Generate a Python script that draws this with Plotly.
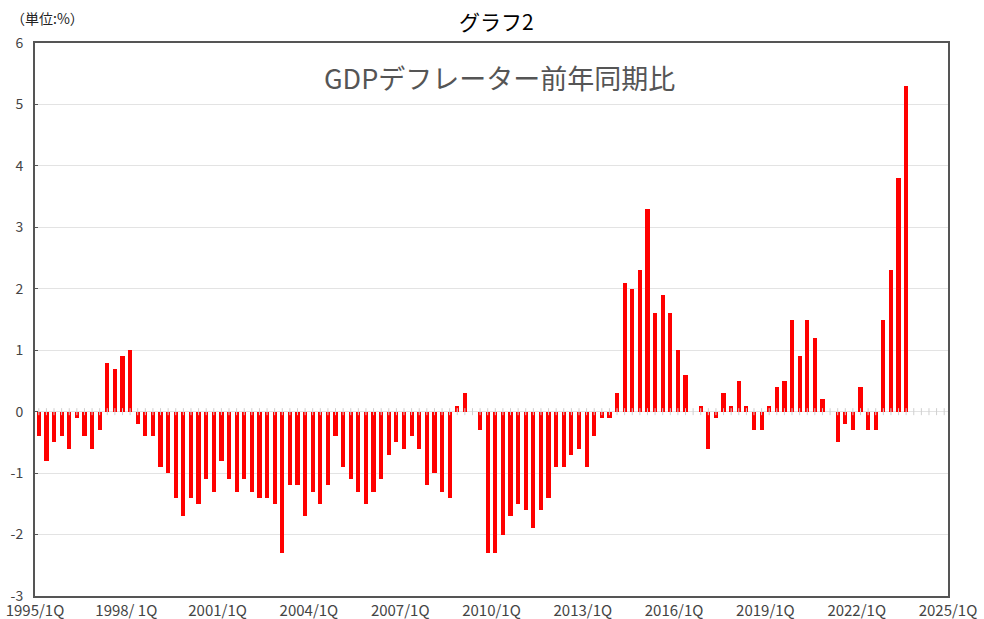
import plotly.graph_objects as go

# GDP deflator, year-on-year change (%), quarterly from 1995/1Q
values = [
    -0.4, -0.8, -0.5, -0.4,   # 1995
    -0.6, -0.1, -0.4, -0.6,   # 1996
    -0.3, 0.8, 0.7, 0.9,      # 1997
    1.0, -0.2, -0.4, -0.4,    # 1998
    -0.9, -1.0, -1.4, -1.7,   # 1999
    -1.4, -1.5, -1.1, -1.3,   # 2000
    -0.8, -1.1, -1.3, -1.1,   # 2001
    -1.3, -1.4, -1.4, -1.5,   # 2002
    -2.3, -1.2, -1.2, -1.7,   # 2003
    -1.3, -1.5, -1.2, -0.4,   # 2004
    -0.9, -1.1, -1.3, -1.5,   # 2005
    -1.3, -1.1, -0.7, -0.5,   # 2006
    -0.6, -0.4, -0.6, -1.2,   # 2007
    -1.0, -1.3, -1.4, 0.1,    # 2008
    0.3, 0.0, -0.3, -2.3,     # 2009
    -2.3, -2.0, -1.7, -1.5,   # 2010
    -1.6, -1.9, -1.6, -1.4,   # 2011
    -0.9, -0.9, -0.7, -0.6,   # 2012
    -0.9, -0.4, -0.1, -0.1,   # 2013
    0.3, 2.1, 2.0, 2.3,       # 2014
    3.3, 1.6, 1.9, 1.6,       # 2015
    1.0, 0.6, 0.0, 0.1,       # 2016
    -0.6, -0.1, 0.3, 0.1,     # 2017
    0.5, 0.1, -0.3, -0.3,     # 2018
    0.1, 0.4, 0.5, 1.5,       # 2019
    0.9, 1.5, 1.2, 0.2,       # 2020
    0.0, -0.5, -0.2, -0.3,    # 2021
    0.4, -0.3, -0.3, 1.5,     # 2022
    2.3, 3.8, 5.3,            # 2023
]

start_year = 1995
n_quarters = 120  # 1995/1Q .. 2024/4Q
quarter_labels = [f"{start_year + q // 4}/{q % 4 + 1}Q" for q in range(n_quarters)]
tick_labels = ["1995/1Q", "1998/ 1Q", "2001/1Q", "2004/1Q", "2007/1Q", "2010/1Q",
               "2013/1Q", "2016/1Q", "2019/1Q", "2022/1Q", "2025/1Q"]
y_ticks = [-3, -2, -1, 0, 1, 2, 3, 4, 5, 6]
y_tick_labels = ["-3", "-2", "-1", "0", "1", "2", "3", "4", "5", "6"]

FONT = "Noto Sans CJK JP"

xpos = [i + 0.5 for i in range(len(values))]
xall = [i + 0.5 for i in range(n_quarters)]

fig = go.Figure()
# small tick marks along the zero line
fig.add_trace(go.Scatter(
    x=xall, y=[0] * n_quarters, mode="markers",
    marker=dict(symbol="line-ns", size=5, line=dict(color="#d0d0d0", width=1)),
    hoverinfo="skip", showlegend=False,
))
fig.add_trace(go.Bar(
    x=xpos, y=values, width=0.55,
    marker=dict(color="#ff0000", line=dict(width=0)),
    customdata=quarter_labels[:len(values)],
    hovertemplate="%{customdata}: %{y}%<extra></extra>",
    showlegend=False,
))

fig.update_layout(
    width=984, height=619,
    margin=dict(l=35, r=36, t=43, b=23, autoexpand=False),
    paper_bgcolor="white", plot_bgcolor="white",
    font=dict(family=FONT, color="#444444", size=13),
    bargap=0,
    annotations=[
        dict(text="グラフ2", xref="paper", yref="paper", x=0.506, y=1.04,
             xanchor="center", yanchor="middle", showarrow=False,
             font=dict(family=FONT, size=21, color="#000000")),
        dict(text="（単位:%）", xref="paper", yref="paper", x=-0.029, y=1.045,
             xanchor="left", yanchor="middle", showarrow=False,
             font=dict(family=FONT, size=14, color="#222222")),
        dict(text="GDPデフレーター前年同期比", xref="paper", yref="paper",
             x=0.509, y=0.937, xanchor="center", yanchor="middle", showarrow=False,
             font=dict(family=FONT, size=27, color="#555555")),
    ],
)
fig.update_xaxes(
    range=[0, n_quarters], tickmode="array",
    tickvals=list(range(0, n_quarters + 1, 12)), ticktext=tick_labels,
    showgrid=False, zeroline=False, automargin=False, ticklabeloverflow="allow",
    showline=True, linecolor="#555555", linewidth=2, mirror=True,
    ticks="", tickfont=dict(size=15, color="#444444"), ticklabelstandoff=0,
)
fig.update_yaxes(
    range=[-3, 6], tickmode="array", tickvals=y_ticks, ticktext=y_tick_labels,
    showgrid=True, gridcolor="#e3e3e3", gridwidth=1,
    zeroline=True, zerolinecolor="#e3e3e3", zerolinewidth=1, automargin=False,
    ticklabeloverflow="allow",
    showline=True, linecolor="#555555", linewidth=2, mirror=True,
    ticks="inside", ticklen=3, tickcolor="#555555",
    tickfont=dict(size=14, color="#444444"), ticklabelstandoff=7,
)

fig.write_html("out.html", config={"displayModeBar": False},
               post_script="document.body.style.margin='0';")
